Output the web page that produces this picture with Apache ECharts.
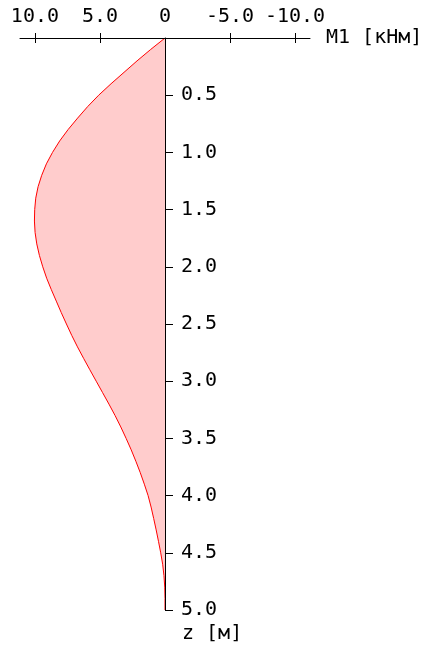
<!DOCTYPE html>
<html>
<head>
<meta charset="utf-8">
<script src="https://cdn.jsdelivr.net/npm/echarts@6/dist/echarts.min.js"></script>
<style>html,body{margin:0;padding:0;background:#fff;}#c{width:432px;height:650px;}</style>
</head>
<body>
<div id="c"></div>
<script>
// depth z [м]
var zValues = [0,0.1,0.2,0.3,0.4,0.5,0.6,0.7,0.8,0.9,1.0,1.1,1.2,1.3,1.4,1.5,1.6,1.7,1.8,1.9,2.0,2.1,2.2,2.3,2.4,2.5,2.6,2.7,2.8,2.9,3.0,3.1,3.2,3.3,3.4,3.5,3.6,3.7,3.8,3.9,4.0,4.1,4.2,4.3,4.4,4.5,4.6,4.7,4.8,4.9,5.0];
// bending moment M1 [кНм]
var m1Values = [0,1.1,2.15,3.15,4.15,5.1,5.95,6.72,7.45,8.1,8.65,9.12,9.48,9.76,9.94,10.02,10.04,9.99,9.86,9.66,9.4,9.1,8.74,8.36,7.98,7.58,7.17,6.73,6.26,5.78,5.29,4.8,4.31,3.84,3.4,2.99,2.6,2.24,1.9,1.59,1.3,1.07,0.87,0.68,0.5,0.33,0.18,0.08,0.02,0.0,0];
var xTickValues = [10,5,-5,-10];
var xLabelValues = [10,5,0,-5,-10];
var xName = 'M1 [кНм]';
var yName = 'z [м]';

var pts = zValues.map(function(z,i){ return [m1Values[i], z]; });
var FONT = 'DejaVu Sans Mono';
var chart = echarts.init(document.getElementById('c'));
chart.setOption({
  animation:false,
  grid:{left:20,width:290,top:38,height:572},
  xAxis:[{
    type:'value', position:'top', inverse:true, min:-11.15, max:11.15, z:10,
    axisLine:{onZero:false,lineStyle:{color:'#000',width:1}},
    axisTick:{show:true,length:5,inside:false,customValues:xTickValues,lineStyle:{color:'#000'}},
    axisLabel:{customValues:xLabelValues,margin:11,color:'#000',fontFamily:FONT,fontSize:20,
      formatter:function(v){return v===0?'0':v.toFixed(1);}},
    splitLine:{show:false},
    name:xName, nameLocation:'start', nameGap:16,
    nameTextStyle:{color:'#000',fontFamily:FONT,fontSize:20,verticalAlign:'middle'}
  },{
    type:'value', position:'top', inverse:true, min:-11.15, max:11.15, z:10,
    axisLine:{show:false,onZero:false},
    axisTick:{show:true,length:5,inside:true,customValues:xTickValues,lineStyle:{color:'#000'}},
    axisLabel:{show:false},
    splitLine:{show:false}
  }],
  yAxis:{
    type:'value', position:'right', offset:-145, inverse:true, min:0, max:5, interval:0.5, z:10,
    axisLine:{show:true,onZero:false,lineStyle:{color:'#000',width:1}},
    axisTick:{show:true,length:8,lineStyle:{color:'#000'}},
    axisLabel:{showMinLabel:false,margin:16,color:'#000',fontFamily:FONT,fontSize:20,
      formatter:function(v){return v.toFixed(1);}},
    splitLine:{show:false},
    name:yName, nameLocation:'end', nameGap:14,
    nameTextStyle:{color:'#000',fontFamily:FONT,fontSize:20,align:'left',verticalAlign:'top',padding:[0,0,0,17]}
  },
  series:[{
    type:'custom', z:1, silent:true,
    data:[[0,0]],
    renderItem:function(params, api){
      if(params.dataIndex!==0) return null;
      var poly=[api.coord([0,zValues[0]])];
      for(var i=0;i<zValues.length;i++){ poly.push(api.coord([m1Values[i],zValues[i]])); }
      poly.push(api.coord([0,zValues[zValues.length-1]]));
      return {type:'polygon',shape:{points:poly},style:{fill:'#ffcccc',stroke:null}};
    }
  },{
    type:'line', z:2, data:pts, symbol:'none', smooth:false,
    lineStyle:{color:'#ff0000',width:1}
  }]
});
</script>
</body>
</html>
